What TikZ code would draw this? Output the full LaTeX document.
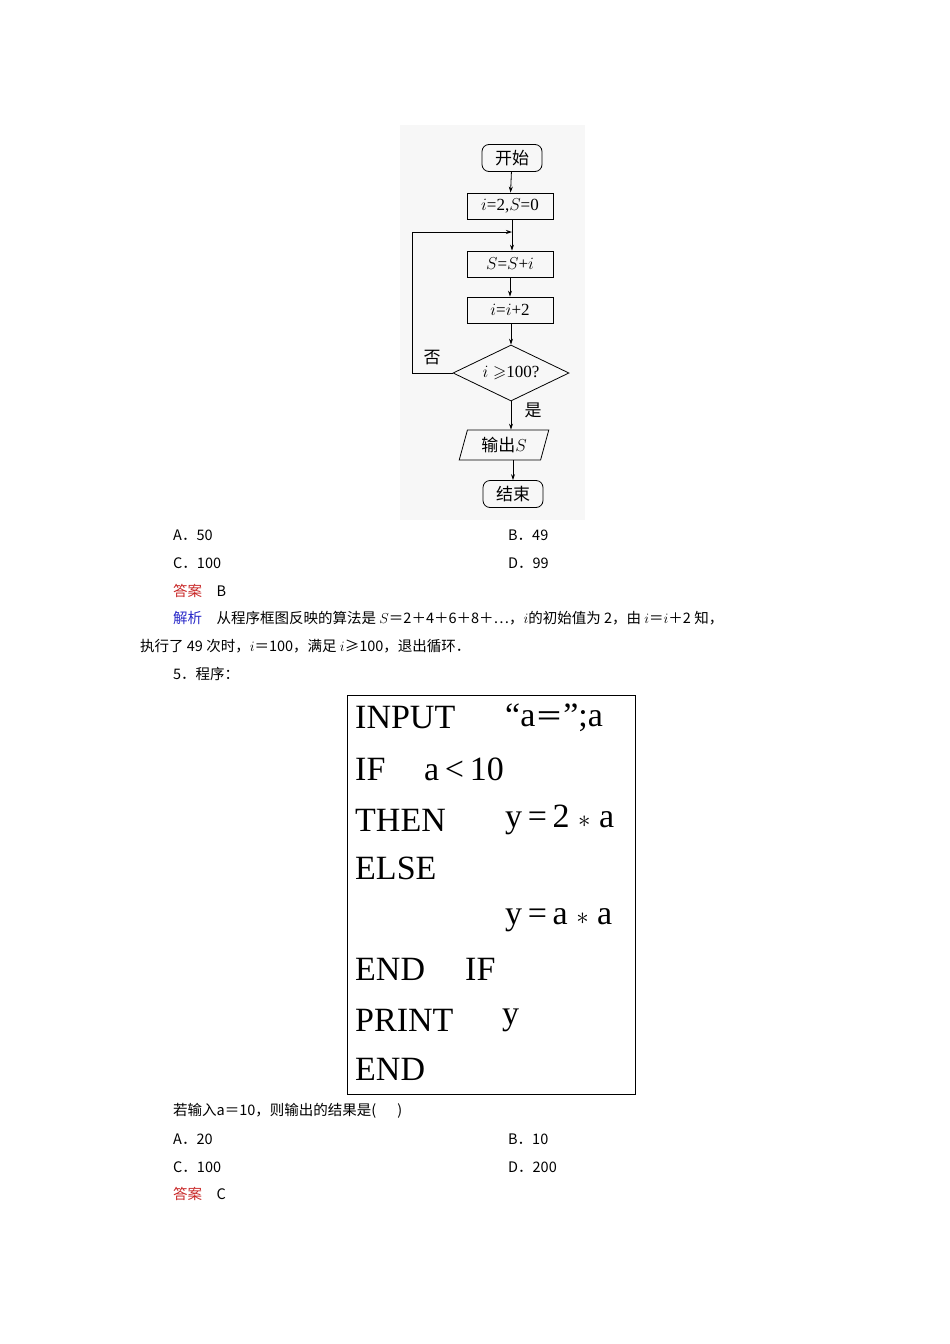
\documentclass[tikz,border=0pt]{standalone}
\usepackage{amssymb}
\usepackage{fontspec}
\setmainfont{Liberation Serif}
\newfontfamily\cjk{Noto Sans CJK SC}
\usetikzlibrary{shapes.geometric,arrows.meta}
\tikzset{
 fbox/.style={draw,thick,minimum width=86pt,minimum height=26pt,inner sep=0pt,font=\fontsize{17}{17}\selectfont},
 term/.style={draw,thick,rounded corners=7pt,minimum width=60pt,minimum height=27pt,inner sep=0pt,font=\cjk\fontsize{17}{17}\selectfont},
 dec/.style={draw,thick,diamond,aspect=2.1,minimum width=116pt,minimum height=56pt,inner sep=0pt,font=\fontsize{17}{17}\selectfont},
 io/.style={draw,thick,trapezium,trapezium left angle=72,trapezium right angle=108,trapezium stretches=true,minimum width=90pt,minimum height=30pt,inner sep=0pt,font=\fontsize{17}{17}\selectfont},
 arr/.style={thick,-{Stealth[length=6pt,width=4pt]}},
 txt/.style={anchor=west,inner sep=0pt,font=\cjk\fontsize{14.5}{15}\selectfont},
 prog/.style={anchor=west,inner sep=0pt,font=\fontsize{34}{34}\selectfont},
}
\definecolor{ansred}{RGB}{200,40,40}
\definecolor{jxblue}{RGB}{40,40,200}
\begin{document}
\begin{tikzpicture}[x=1pt,y=-1pt]
\useasboundingbox (0,0) rectangle (950,1344);
\fill[gray!6] (400,125) rectangle (585,520);
\node[term] (start) at (512,158) {开始};
\node[fbox] (init) at (510,206) {$i$=2,$S$=0};
\node[fbox] (s) at (510,264) {$S$=$S$+$i$};
\node[fbox] (inc) at (510,310) {$i$=$i$+2};
\node[dec] (d) at (511,373) {$i\geqslant$100?};
\node[io] (out) at (504,445) {\cjk 输出\normalfont$S$};
\node[term] (end) at (513,494) {结束};
\coordinate (j) at (512,232);
\draw[arr] (start) -- (init);
\draw[thick] (init.south -| j) -- (j);
\draw[arr] (j) -- (s.north -| j);
\draw[arr] (s) -- (inc);
\draw[arr] (inc.south -| d.north) -- (d.north);
\draw[arr] (d.south) -- (out.north -| d.south);
\draw[arr] (out.south -| end.north) -- (end.north);
\draw[arr] (d.west) -- (412,373) -- (412,232) -- (j);
\node[font=\cjk\fontsize{17}{17}\selectfont] (no) at (432,358) {否};
\node[font=\cjk\fontsize{17}{17}\selectfont] (yes) at (533,410) {是};

\node[txt] (a1) at (173,535) {A．50};
\node[txt] (b1) at (508,535) {B．49};
\node[txt] (c1) at (173,563) {C．100};
\node[txt] (d1) at (508,563) {D．99};
\node[txt] (ans1) at (173,591) {\textcolor{ansred}{答案}\quad B};
\node[txt] (jx) at (173,618) {\textcolor{jxblue}{解析}\quad 从程序框图反映的算法是 \normalfont$S$\cjk＝2＋4＋6＋8＋…，\normalfont$i$\cjk 的初始值为 2，由 \normalfont$i$\cjk＝\normalfont$i$\cjk＋2 知，};
\node[txt] (jx2) at (140,646) {执行了 49 次时，\normalfont$i$\cjk＝100，满足 \normalfont$i$\cjk≥100，退出循环．};
\node[txt] (q5) at (173,674) {5．程序：};

\draw[thick] (347,695) rectangle (635,1094);
\node[prog] (p1) at (355,718) {INPUT};
\node[prog] (p1b) at (505,718) {“a{\cjk\fontsize{28}{28}\selectfont＝}”;a};
\node[prog] (p2) at (355,769) {IF};
\node[prog] (p2b) at (424,769) {a\,<\,10};
\node[prog] (p3) at (355,820) {THEN};
\node[prog] (p3b) at (505,820) {y\,=\,2 $*$ a};
\node[prog] (p4) at (355,868) {ELSE};
\node[prog] (p5) at (505,920) {y\,=\,a $*$ a};
\node[prog] (p6) at (355,969) {END};
\node[prog] (p6b) at (465,969) {IF};
\node[prog] (p7) at (355,1020) {PRINT};
\node[prog] (p7b) at (502,1020) {y};
\node[prog] (p8) at (355,1069) {END};

\node[txt] (q) at (173,1111) {若输入a＝10，则输出的结果是(\quad\ \ )};
\node[txt] (a2) at (173,1139) {A．20};
\node[txt] (b2) at (508,1139) {B．10};
\node[txt] (c2) at (173,1167) {C．100};
\node[txt] (d2) at (508,1167) {D．200};
\node[txt] (ans2) at (173,1194) {\textcolor{ansred}{答案}\quad C};
\end{tikzpicture}
\end{document}
